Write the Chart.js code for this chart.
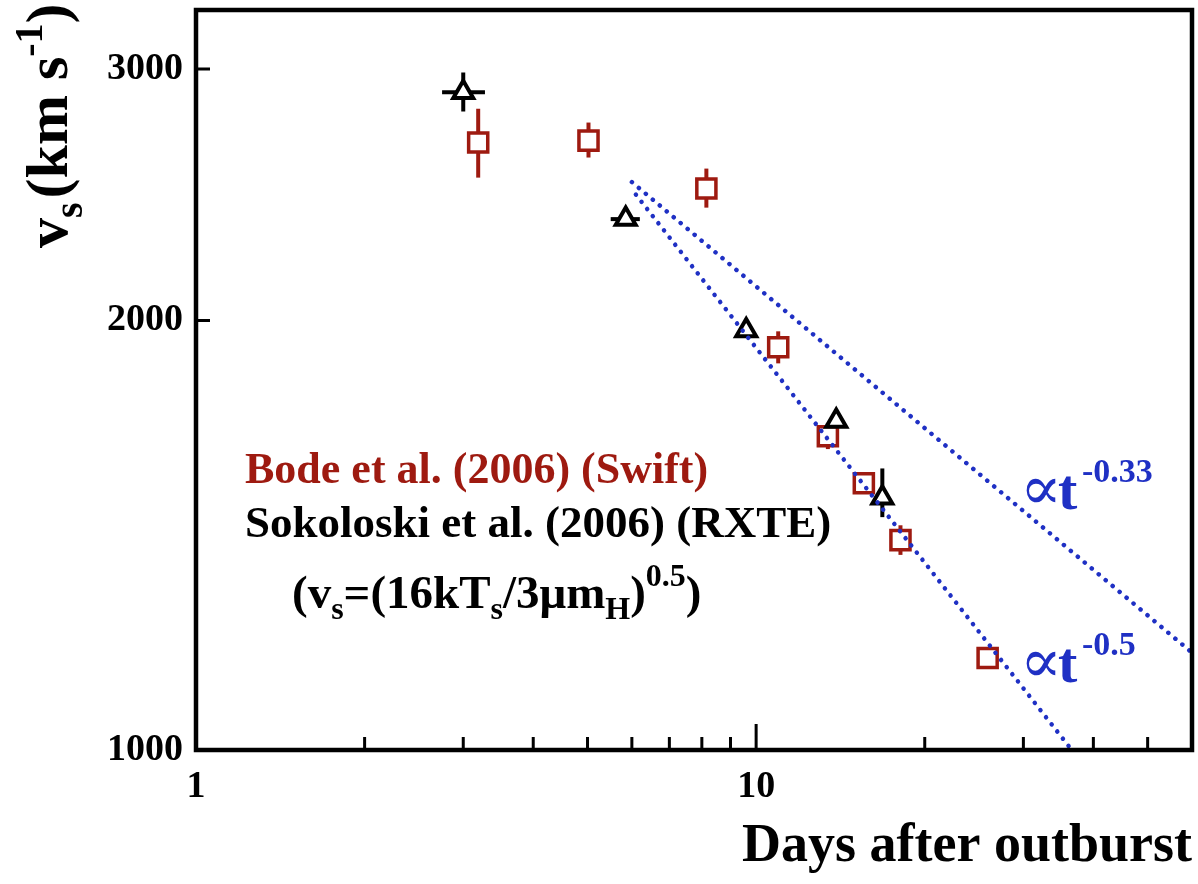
<!DOCTYPE html>
<html>
<head>
<meta charset="utf-8">
<script src="https://cdn.jsdelivr.net/npm/chart.js@4.4.0/dist/chart.umd.min.js"></script>
<style>
  html, body { margin: 0; padding: 0; background: #fff; }
</style>
</head>
<body>
<canvas id="chart" width="1198" height="884"></canvas>
<script>
// Bode et al. (2006), Swift
const swiftDays = [3.19, 5.02, 8.15, 10.95, 13.43, 15.57, 18.1, 25.9];
const swiftVel  = [2665, 2673, 2474, 1915, 1659, 1538, 1403, 1160];
const swiftLow  = [2518, 2601, 2399, 1866, 1625, null, 1370, null];
const swiftHigh = [2814, 2752, 2555, 1965, 1695, null, 1437, null];

// Sokoloski et al. (2006), RXTE
const sokoDays    = [3.0, 5.85, 9.6, 13.9, 16.8];
const sokoVel     = [2890, 2355, 1968, 1700, 1502];
const sokoLow     = [2801, null, null, null, 1456];
const sokoHigh    = [2983, null, null, null, 1575];
const sokoDayLow  = [2.75, 5.5, null, null, null];
const sokoDayHigh = [3.28, 6.2, null, null, null];

// power-law guide lines (end points)
const fit033Days = [6.0, 60];
const fit033Vel  = [2500, 1170];
const fit05Days  = [6.1, 36.6];
const fit05Vel   = [2450, 1000];

// axis ticks
const xLabelTicks = [1, 10];
const xMinorTicks = [2, 3, 4, 5, 6, 7, 8, 9, 20, 30, 40, 50];
const xMajorTicks = [10];
const yLabelTicks = [1000, 2000, 3000];

const RED = '#9e1a10';
const BLUE = '#1f30c4';
const SERIF = '"Liberation Serif", "DejaVu Serif", serif';

function pts(xs, ys) { return xs.map((v, i) => ({ x: v, y: ys[i] })); }

function drawRuns(ctx, x, y, runs) {
  ctx.textAlign = 'left';
  ctx.textBaseline = 'alphabetic';
  runs.forEach(r => {
    ctx.font = 'bold ' + r.size + 'px ' + SERIF;
    ctx.fillText(r.text, x, y + (r.dy || 0));
    x += ctx.measureText(r.text).width + (r.gap || 0);
  });
}

const errorBars = {
  id: 'errorBars',
  beforeDatasetsDraw(chart) {
    const { ctx, scales: { x, y } } = chart;
    ctx.save();
    ctx.lineWidth = 4;
    const sets = [
      { d: swiftDays, v: swiftVel, lo: swiftLow, hi: swiftHigh, color: RED },
      { d: sokoDays, v: sokoVel, lo: sokoLow, hi: sokoHigh, xlo: sokoDayLow, xhi: sokoDayHigh, color: '#000' }
    ];
    sets.forEach(s => {
      ctx.strokeStyle = s.color;
      s.d.forEach((day, i) => {
        const px = x.getPixelForValue(day), py = y.getPixelForValue(s.v[i]);
        ctx.beginPath();
        if (s.lo[i] != null) {
          ctx.moveTo(px, y.getPixelForValue(s.lo[i]));
          ctx.lineTo(px, y.getPixelForValue(s.hi[i]));
        }
        if (s.xlo && s.xlo[i] != null) {
          ctx.moveTo(x.getPixelForValue(s.xlo[i]), py);
          ctx.lineTo(x.getPixelForValue(s.xhi[i]), py);
        }
        ctx.stroke();
      });
    });
    ctx.restore();
  }
};

const frameAndText = {
  id: 'frameAndText',
  afterDraw(chart) {
    const { ctx, chartArea: a, scales: { x, y } } = chart;
    ctx.save();
    // ticks
    ctx.strokeStyle = '#000';
    ctx.lineWidth = 3;
    ctx.beginPath();
    xMinorTicks.forEach(t => {
      const px = x.getPixelForValue(t);
      ctx.moveTo(px, a.bottom); ctx.lineTo(px, a.bottom - 13);
    });
    xMajorTicks.forEach(t => {
      const px = x.getPixelForValue(t);
      ctx.moveTo(px, a.bottom); ctx.lineTo(px, a.bottom - 26);
    });
    yLabelTicks.forEach(t => {
      const py = y.getPixelForValue(t);
      ctx.moveTo(a.left, py); ctx.lineTo(a.left + 14, py);
    });
    ctx.stroke();
    // frame
    ctx.lineWidth = 4.5;
    ctx.strokeRect(a.left, a.top, a.right - a.left, a.bottom - a.top);

    // y axis title
    ctx.fillStyle = '#000';
    ctx.save();
    ctx.translate(67, 248);
    ctx.rotate(-Math.PI / 2);
    drawRuns(ctx, 0, 0, [
      { text: 'v', size: 60 },
      { text: 's', size: 40, dy: 15, gap: 4 },
      { text: '(km s', size: 60 },
      { text: '-1', size: 40, dy: -25 },
      { text: ')', size: 60 }
    ]);
    ctx.restore();

    // legend texts
    ctx.fillStyle = RED;
    drawRuns(ctx, 245, 483, [{ text: 'Bode et al. (2006) (Swift)', size: 44 }]);
    ctx.fillStyle = '#000';
    drawRuns(ctx, 245, 537, [{ text: 'Sokoloski et al. (2006) (RXTE)', size: 45 }]);
    drawRuns(ctx, 292, 608, [
      { text: '(v', size: 47 },
      { text: 's', size: 32, dy: 11 },
      { text: '=(16kT', size: 47 },
      { text: 's', size: 32, dy: 11 },
      { text: '/3\u03BCm', size: 47 },
      { text: 'H', size: 32, dy: 11 },
      { text: ')', size: 47 },
      { text: '0.5', size: 32, dy: -22 },
      { text: ')', size: 47 }
    ]);

    // power-law labels
    ctx.fillStyle = BLUE;
    [[509, '-0.33'], [682, '-0.5']].forEach(([base, pw]) => {
      ctx.font = '62px ' + SERIF;
      ctx.fillText('\u221D', 1020, base);
      ctx.font = 'bold 58px ' + SERIF;
      ctx.fillText('t', 1058, base);
      ctx.font = 'bold 34px ' + SERIF;
      ctx.fillText(pw, 1082, base - 27);
    });
    ctx.restore();
  }
};

new Chart(document.getElementById('chart'), {
  type: 'scatter',
  data: {
    datasets: [
      {
        label: 'fit -0.33',
        data: pts(fit033Days, fit033Vel),
        showLine: true,
        borderColor: BLUE,
        borderWidth: 4.5,
        borderDash: [0.1, 9],
        borderCapStyle: 'round',
        pointRadius: 0
      },
      {
        label: 'fit -0.5',
        data: pts(fit05Days, fit05Vel),
        showLine: true,
        borderColor: BLUE,
        borderWidth: 4.5,
        borderDash: [0.1, 9],
        borderCapStyle: 'round',
        pointRadius: 0
      },
      {
        label: 'Sokoloski et al. (2006) (RXTE)',
        data: pts(sokoDays, sokoVel),
        pointStyle: 'triangle',
        pointRadius: 11.5,
        borderColor: '#000',
        backgroundColor: '#fff',
        borderWidth: 4
      },
      {
        label: 'Bode et al. (2006) (Swift)',
        data: pts(swiftDays, swiftVel),
        pointStyle: 'rect',
        pointRadius: 13.5,
        borderColor: RED,
        backgroundColor: '#fff',
        borderWidth: 3.5
      }
    ]
  },
  options: {
    responsive: false,
    animation: false,
    layout: { autoPadding: false, padding: { top: 10, right: 6, left: 0, bottom: 0 } },
    plugins: { legend: { display: false }, tooltip: { enabled: false } },
    scales: {
      x: {
        type: 'logarithmic',
        min: 1,
        max: 60,
        afterBuildTicks: s => { s.ticks = xLabelTicks.map(v => ({ value: v })); },
        afterFit: s => { s.height = 134; s.paddingLeft = 0; s.paddingRight = 0; },
        grid: { display: false, drawTicks: false },
        border: { display: false },
        ticks: {
          autoSkip: false,
          maxRotation: 0,
          padding: 14,
          color: '#000',
          font: { family: SERIF, size: 38, weight: 'bold' },
          callback: v => String(v)
        },
        title: {
          display: true,
          text: 'Days after outburst',
          align: 'end',
          color: '#000',
          padding: { top: 0, bottom: 5 },
          font: { family: SERIF, size: 54, weight: 'bold' }
        }
      },
      y: {
        type: 'logarithmic',
        min: 1000,
        max: 3300,
        afterBuildTicks: s => { s.ticks = yLabelTicks.map(v => ({ value: v })); },
        afterFit: s => { s.width = 196; s.paddingTop = 0; s.paddingBottom = 0; },
        grid: { display: false, drawTicks: false },
        border: { display: false },
        ticks: {
          autoSkip: false,
          padding: 13,
          color: '#000',
          font: { family: SERIF, size: 38, weight: 'bold' },
          callback: v => String(v)
        }
      }
    }
  },
  plugins: [errorBars, frameAndText]
});
</script>
</body>
</html>
